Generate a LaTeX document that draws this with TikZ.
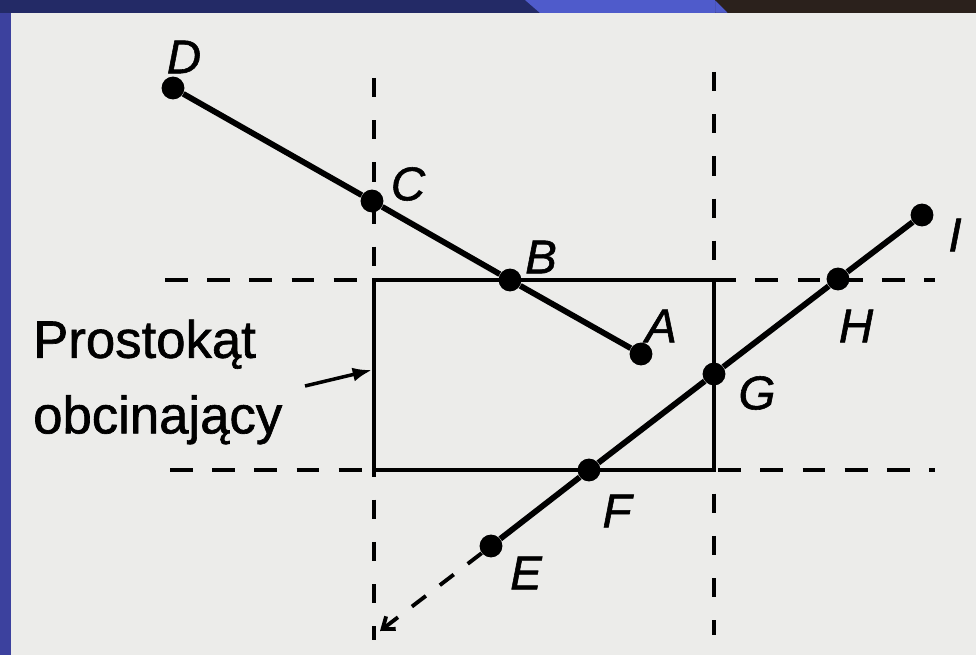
\documentclass[tikz,border=0pt]{standalone}
\usepackage{fontspec}
\setmainfont{Liberation Sans}
\newfontfamily\slidefont[FakeBold=1.2]{Liberation Sans}
\usetikzlibrary{arrows.meta}

\definecolor{slidebg}{HTML}{ECECEA}
\definecolor{frameblue}{HTML}{3C419E}
\definecolor{topnavy}{HTML}{232A66}
\definecolor{toplight}{HTML}{4F5BCB}
\definecolor{topbrown}{HTML}{2B211C}

\tikzset{
  dot/.style={circle,fill=black,inner sep=0pt,minimum size=13pt},
  ptlabel/.style={font=\fontsize{27}{30}\slidefont\itshape},
  segment/.style={line width=3.3pt},
  hline/.style={line width=2.3pt,dash pattern=on 13pt off 11pt},
  vline/.style={line width=2.3pt,dash pattern=on 11pt off 13pt},
}

\begin{document}
\begin{tikzpicture}[x=0.02cm,y=-0.02cm]
\useasboundingbox (0,0) rectangle (976,655);
% slide frame
\fill[frameblue] (0,0) rectangle (976,655);
\fill[topnavy] (0,0) rectangle (976,13);
\fill[toplight] (525,0) -- (715,0) -- (728,13) -- (540,13) -- cycle;
\fill[topbrown] (715,0) rectangle (976,13) (715,0) -- (728,13) -- (715,13) -- cycle;
\fill[slidebg] (11,13) rectangle (976,655);
% window lines
\draw[hline] (165,280) -- (935,280);
\draw[hline] (170,470) -- (935,470);
\draw[vline] (374,78) -- (374,640);
\draw[vline] (714,72) -- (714,635);
\draw[line width=2.2pt,fill=slidebg] (374,280) rectangle (714,470);
% points
\node[dot] (D) at (173,88) {};
\node[dot] (C) at (372,201) {};
\node[dot] (B) at (510,280) {};
\node[dot] (A) at (641,354) {};
\node[dot] (E) at (491,546) {};
\node[dot] (F) at (589,470) {};
\node[dot] (G) at (714,374) {};
\node[dot] (H) at (838,279) {};
\node[dot] (I) at (922,215) {};
\coordinate (Ex) at (380,631);
\draw[segment] (D) -- (C) -- (B) -- (A);
\draw[segment] (E) -- (F) -- (G) -- (H) -- (I);
\draw[line width=2.2pt,dash pattern=on 10pt off 10pt,-{Straight Barb[length=6pt,width=9pt]}] (E) -- (Ex);
% labels
\node[ptlabel] (lD) at (184,57) {D};
\node[ptlabel] (lC) at (408,184) {C};
\node[ptlabel] (lB) at (541,257) {B};
\node[ptlabel] (lA) at (661,326) {A};
\node[ptlabel] (lG) at (757,393) {G};
\node[ptlabel] (lH) at (856,326) {H};
\node[ptlabel] (lI) at (955,235) {I};
\node[ptlabel] (lF) at (617,511) {F};
\node[ptlabel] (lE) at (526,573) {E};
\node[align=left,anchor=west,font=\fontsize{30}{43}\slidefont] (okno) at (27,382) {Prostokąt\\obcinający};
\coordinate (tail) at (305,386);
\coordinate (rl) at (372,370);
\draw[line width=2pt,-{Latex[length=11pt,width=8pt]}] (tail) -- (rl);
\end{tikzpicture}
\end{document}
